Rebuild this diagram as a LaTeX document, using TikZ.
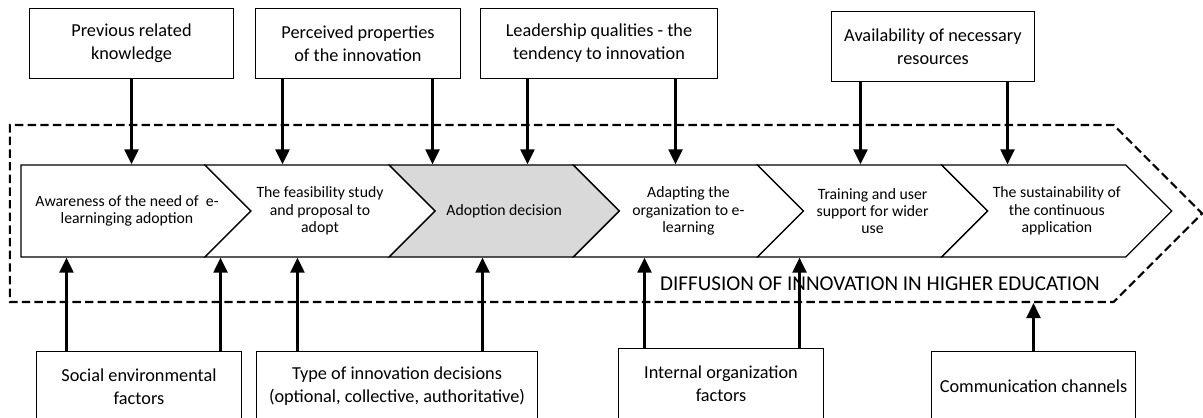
\documentclass[tikz,border=0pt]{standalone}
\usepackage{fontspec}
\setmainfont{Carlito}
\usetikzlibrary{shapes,arrows.meta,positioning,calc}

\begin{document}
\begin{tikzpicture}[x=0.025cm, y=-0.025cm,
    factor/.style={rectangle, draw=black, line width=0.7pt, minimum width=5.1cm, minimum height=1.725cm, align=center, inner sep=2pt, font=\fontsize{13}{16.3}\selectfont},
    stage/.style={signal, signal from=west, signal to=east, signal pointer angle=90, draw=black, line width=0.9pt, fill=white, minimum width=5.75cm, minimum height=2.3cm, inner sep=0pt, align=center, font=\fontsize{11.2}{12.3}\selectfont},
    frame/.style={signal, signal from=nowhere, signal to=east, signal pointer angle=90, draw=black, line width=1.5pt, dash pattern=on 6pt off 3pt, minimum width=29.8cm, minimum height=4.425cm},
    arrow/.style={-{Triangle[length=0.375cm, width=0.35cm]}, line width=1.6pt}
]
\useasboundingbox (0,0) rectangle (1203,418);
\clip (0,0) rectangle (1203,418);

% dashed frame
\node[frame] (diffusion) at (561.75,213.5) {};
\node[font=\fontsize{15}{18}\selectfont, inner sep=0pt] (difflabel) at (880,283.5) {DIFFUSION OF INNOVATION IN HIGHER EDUCATION};

% stages
\node[stage, signal from=nowhere] (awareness) at (113,211) {\hspace*{0.35cm}Awareness of the need of~ e-\hspace*{-0.35cm}\\\hspace*{0.35cm}learninging adoption\hspace*{-0.35cm}};
\node[stage] (feasibility) at (320,211) {The feasibility study\\and proposal to\\adopt};
\node[stage, fill=gray!30] (adoption) at (504.2,211) {Adoption decision};
\node[stage] (adapting) at (688.4,211) {Adapting the\\organization to e-\\learning};
\node[stage] (training) at (872.6,211) {Training and user\\support for wider\\use};
\node[stage] (sustain) at (1056.8,211) {The sustainability of\\the continuous\\application};

% factors above
\node[factor, minimum width=5.075cm] (knowledge) at (131.5,43.5) {Previous related\\knowledge};
\node[factor] (properties) at (358,43.5) {Perceived properties\\of the innovation};
\node[factor, minimum width=5.9cm] (leadership) at (599,43.5) {Leadership qualities - the\\tendency to innovation};
\node[factor, minimum width=5.05cm] (resources) at (933,46.5) {Availability of necessary\\resources};

% factors below
\node[factor] (social) at (139,386.5) {Social environmental\\factors};
\node[factor, minimum width=7cm] (decisions) at (397,386.5) {Type of innovation decisions\\(optional, collective, authoritative)};
\node[factor] (internal) at (721,383.5) {Internal organization\\factors};
\node[factor, minimum width=5.075cm] (channels) at (1033.5,386.5) {Communication channels};

\draw[arrow] (knowledge.south) -- (knowledge.south |- awareness.north);
\draw[arrow] ([xshift=0.675cm]properties.south west) -- ([xshift=0.675cm]properties.south west |- feasibility.north);
\draw[arrow] ([xshift=-0.7cm]properties.south east) -- ([xshift=-0.7cm]properties.south east |- adoption.north);
\draw[arrow] ([xshift=1.175cm]leadership.south west) -- ([xshift=1.175cm]leadership.south west |- adoption.north);
\draw[arrow] ([xshift=-1.05cm]leadership.south east) -- ([xshift=-1.05cm]leadership.south east |- adapting.north);
\draw[arrow] ([xshift=0.725cm]resources.south west) -- ([xshift=0.725cm]resources.south west |- training.north);
\draw[arrow] ([xshift=-0.675cm]resources.south east) -- ([xshift=-0.675cm]resources.south east |- sustain.north);

\draw[arrow] ([xshift=0.75cm]social.north west) -- ([xshift=0.75cm]social.north west |- awareness.south);
\draw[arrow] ([xshift=-0.525cm]social.north east) -- ([xshift=-0.525cm]social.north east |- feasibility.south);
\draw[arrow] ([xshift=1.025cm]decisions.north west) -- ([xshift=1.025cm]decisions.north west |- feasibility.south);
\draw[arrow] ([xshift=-1.375cm]decisions.north east) -- ([xshift=-1.375cm]decisions.north east |- adoption.south);
\draw[arrow] ([xshift=0.65cm]internal.north west) -- ([xshift=0.65cm]internal.north west |- adapting.south);
\draw[arrow] ([xshift=-0.6cm]internal.north east) -- ([xshift=-0.6cm]internal.north east |- training.south);
\draw[arrow] (channels.north) -- (channels.north |- diffusion.south);

\end{tikzpicture}
\end{document}
